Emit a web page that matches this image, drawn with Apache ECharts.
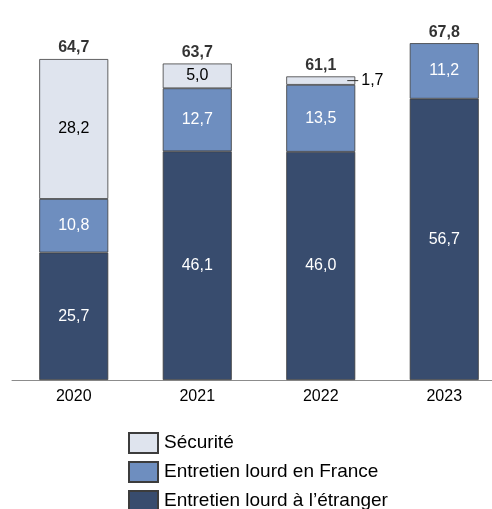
<!DOCTYPE html>
<html>
<head>
<meta charset="utf-8">
<script src="https://cdn.jsdelivr.net/npm/echarts@6/dist/echarts.min.js"></script>
<style>
  html, body { margin: 0; padding: 0; background: #fff; overflow: hidden; }
  #chart { width: 506px; height: 509px; }
</style>
</head>
<body>
<div id="chart"></div>
<script>
// données du graphique
const years = ['2020', '2021', '2022', '2023'];
const etranger = [25.7, 46.1, 46.0, 56.7];
const france = [10.8, 12.7, 13.5, 11.2];
const securite = [28.2, 5.0, 1.7, null];
const totals = [64.7, 63.7, 61.1, 67.8];

const fmt = v => v.toFixed(1).replace('.', ',');
const font = 'Liberation Sans, Arial, sans-serif';
const border = { borderColor: '#3c3c3c', borderWidth: 0.8 };

// petits segments : étiquette à droite avec un trait
const securiteData = securite.map(v => {
    if (v == null) return null;
    if (v < 3) {
        return {
            value: v,
            label: {
                position: ['100%', '50%'],
                offset: [-8, 0],
                align: 'left',
                verticalAlign: 'middle',
                color: '#000',
                formatter: '{l|}{t|' + fmt(v) + '}',
                rich: {
                    l: { width: 11, height: 1, backgroundColor: '#333' },
                    t: { padding: [0, 0, 0, 3], fontSize: 16, fontFamily: font, color: '#000' }
                }
            }
        };
    }
    return v;
});

const chart = echarts.init(document.getElementById('chart'));
chart.setOption({
    animation: false,
    textStyle: { fontFamily: font },
    legend: {
        orient: 'vertical',
        left: 128,
        top: 432,
        padding: 0,
        height: 90,
        icon: 'rect',
        itemWidth: 29,
        itemHeight: 20,
        itemGap: 7,
        data: ['Sécurité', 'Entretien lourd en France', 'Entretien lourd à l’étranger'],
        textStyle: { fontSize: 19, lineHeight: 20, color: '#000', fontFamily: font, padding: [0, 0, 0, 1] }
    },
    grid: { left: 12, right: 0, top: 0, bottom: 129 },
    xAxis: {
        type: 'category',
        data: years,
        axisTick: { show: false },
        axisLine: { lineStyle: { color: '#8c8c8c', width: 1 } },
        axisLabel: { fontSize: 16, color: '#000', margin: 9, fontFamily: font }
    },
    yAxis: { type: 'value', min: 0, max: 76.6, show: false, splitLine: { show: false } },
    series: [
        {
            name: 'Entretien lourd à l’étranger',
            type: 'bar',
            stack: 'total',
            barWidth: 69,
            data: etranger,
            itemStyle: Object.assign({ color: '#384c6e' }, border),
            label: { show: true, position: 'inside', color: '#fff', fontSize: 16, formatter: p => fmt(p.value) }
        },
        {
            name: 'Entretien lourd en France',
            type: 'bar',
            stack: 'total',
            data: france,
            itemStyle: Object.assign({ color: '#6e8ebf' }, border),
            label: { show: true, position: 'inside', color: '#fff', fontSize: 16, formatter: p => fmt(p.value) }
        },
        {
            name: 'Sécurité',
            type: 'bar',
            stack: 'total',
            data: securiteData,
            itemStyle: Object.assign({ color: '#dfe4ee' }, border),
            label: { show: true, position: 'inside', color: '#000', fontSize: 16, formatter: p => fmt(p.value) }
        },
        {
            name: 'Total',
            type: 'scatter',
            data: totals,
            symbolSize: 0,
            silent: true,
            label: {
                show: true,
                position: 'top',
                distance: 3,
                fontSize: 16,
                fontWeight: 'bold',
                color: '#000',
                formatter: p => fmt(p.value)
            }
        }
    ]
});
</script>
</body>
</html>
